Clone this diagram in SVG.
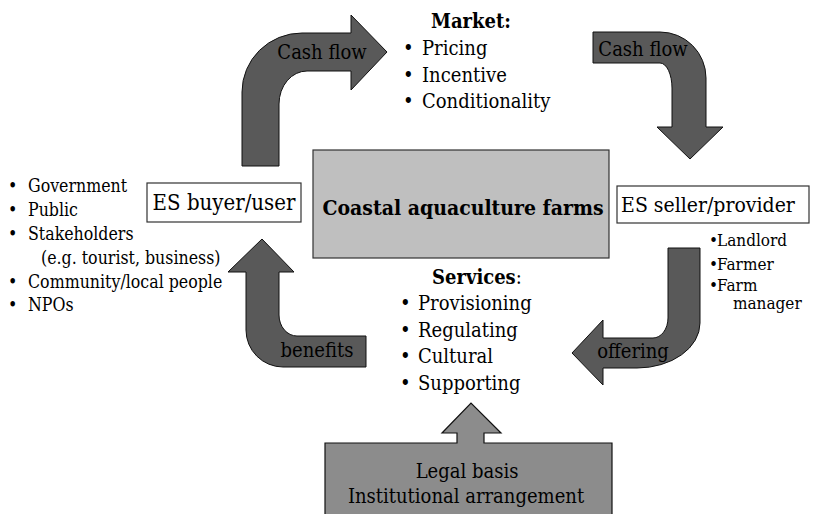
<svg xmlns="http://www.w3.org/2000/svg" width="814" height="514" viewBox="0 0 814 514">
<style>
text{font-family:"DejaVu Serif Condensed","DejaVu Serif",serif;font-stretch:condensed;fill:#000}
.arrow{fill:#595959;stroke:#111;stroke-width:1}
.lbl{font-size:20px}
.box{fill:#fff;stroke:#333;stroke-width:1.2}
.li{font-size:20px}
.ll{font-size:17.6px}
.rl{font-size:17px}
</style>
<rect width="814" height="514" fill="#fff"/>
<g id="connectors">
  <g id="cashflow-left">
    <path class="arrow" d="M242,166 L242,92 A60,59 0 0 1 302,33 L351,33 L351,15 L387,52 L351,90 L351,71 L307,71 A28,33 0 0 0 279,104 L279,166 Z"/>
    <text class="lbl" x="322" y="59" text-anchor="middle">Cash flow</text>
  </g>
  <g id="cashflow-right">
    <path class="arrow" d="M593,32 L660,32 A46,46 0 0 1 706,78 L706,127 L723,127 L690,159 L657,127 L672,127 L672,88 A12,25 0 0 0 660,63 L593,63 Z"/>
    <text class="lbl" x="643" y="56" text-anchor="middle">Cash flow</text>
  </g>
  <g id="offering">
    <path class="arrow" d="M668,248 L700,248 L700,323 A63,45 0 0 1 637,368 L603,368 L603,385 L572,353 L603,320 L603,338 L653,338 A15,20 0 0 0 668,318 Z"/>
    <text class="lbl" x="633" y="358" text-anchor="middle">offering</text>
  </g>
  <g id="benefits">
    <path class="arrow" d="M262,239 L294,272 L279,272 L279,315 A18,21 0 0 0 297,336 L366,336 L366,367 L283,367 A37,37 0 0 1 246,330 L246,272 L228,272 Z"/>
    <text class="lbl" x="317" y="357" text-anchor="middle">benefits</text>
  </g>
</g>
<g id="legal">
  <path d="M325,520 L325,443 L457,443 L457,433 L442,433 L471,403 L501,433 L484,433 L484,443 L612,443 L612,520 Z" fill="#8c8c8c" stroke="#111" stroke-width="1.2"/>
  <text x="467" y="478" font-size="20" text-anchor="middle">Legal basis</text>
  <text x="466" y="503" font-size="20" text-anchor="middle">Institutional arrangement</text>
</g>
<g id="farms">
  <rect x="313" y="150" width="296" height="108" fill="#bfbfbf" stroke="#333" stroke-width="1.2"/>
  <text x="463" y="215" font-size="21" font-weight="bold" text-anchor="middle">Coastal aquaculture farms</text>
</g>
<g id="buyer">
  <rect class="box" x="147" y="183" width="154" height="39"/>
  <text x="224" y="210" font-size="22" text-anchor="middle">ES buyer/user</text>
</g>
<g id="seller">
  <rect class="box" x="617" y="186" width="192" height="37"/>
  <text x="708" y="212" font-size="21" text-anchor="middle">ES seller/provider</text>
</g>
<g id="market">
  <text x="471" y="28" font-size="20" font-weight="bold" text-anchor="middle">Market:</text>
  <text class="li" x="403" y="55">•</text><text class="li" x="422" y="55">Pricing</text>
  <text class="li" x="403" y="82">•</text><text class="li" x="422" y="82">Incentive</text>
  <text class="li" x="403" y="108">•</text><text class="li" x="422" y="108">Conditionality</text>
</g>
<g id="services">
  <text x="432" y="284" font-size="20"><tspan font-weight="bold">Services</tspan>:</text>
  <text class="li" x="400" y="310">•</text><text class="li" x="418" y="310">Provisioning</text>
  <text class="li" x="400" y="337">•</text><text class="li" x="418" y="337">Regulating</text>
  <text class="li" x="400" y="363">•</text><text class="li" x="418" y="363">Cultural</text>
  <text class="li" x="400" y="390">•</text><text class="li" x="418" y="390">Supporting</text>
</g>
<g id="buyer-list">
  <text class="ll" x="8" y="192">•</text><text class="ll" x="28" y="192">Government</text>
  <text class="ll" x="8" y="216">•</text><text class="ll" x="28" y="216">Public</text>
  <text class="ll" x="8" y="240">•</text><text class="ll" x="28" y="240">Stakeholders</text>
  <text class="ll" x="41" y="264">(e.g. tourist, business)</text>
  <text class="ll" x="8" y="288">•</text><text class="ll" x="28" y="288">Community/local people</text>
  <text class="ll" x="8" y="311">•</text><text class="ll" x="28" y="311">NPOs</text>
</g>
<g id="seller-list">
  <text class="rl" x="709" y="246">•</text><text class="rl" x="717" y="246">Landlord</text>
  <text class="rl" x="709" y="270">•</text><text class="rl" x="717" y="270">Farmer</text>
  <text class="rl" x="709" y="291">•</text><text class="rl" x="717" y="291">Farm</text>
  <text class="rl" x="733" y="309">manager</text>
</g>
</svg>
